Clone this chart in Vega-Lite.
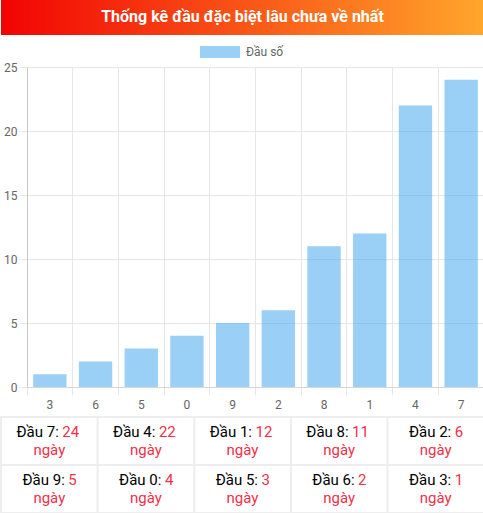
{
  "$schema": "https://vega.github.io/schema/vega-lite/v6.json",
  "padding": 0,
  "background": "white",
  "spacing": 0,
  "bounds": "full",
  "config": {
    "view": {"stroke": null},
    "font": "Roboto"
  },
  "datasets": {
    "heads": [
      {"dau": "3", "days": 1, "label": "Đầu 3:"},
      {"dau": "6", "days": 2, "label": "Đầu 6:"},
      {"dau": "5", "days": 3, "label": "Đầu 5:"},
      {"dau": "0", "days": 4, "label": "Đầu 0:"},
      {"dau": "9", "days": 5, "label": "Đầu 9:"},
      {"dau": "2", "days": 6, "label": "Đầu 2:"},
      {"dau": "8", "days": 11, "label": "Đầu 8:"},
      {"dau": "1", "days": 12, "label": "Đầu 1:"},
      {"dau": "4", "days": 22, "label": "Đầu 4:"},
      {"dau": "7", "days": 24, "label": "Đầu 7:"}
    ]
  },
  "resolve": {"legend": {"color": "independent"}},
  "vconcat": [
    {
      "width": 483,
      "height": 35,
      "data": {"values": [{"title": "Thống kê đầu đặc biệt lâu chưa về nhất"}]},
      "layer": [
        {
          "mark": {
            "type": "rect",
            "fill": {
              "gradient": "linear",
              "x1": 0, "x2": 1, "y1": 0, "y2": 0,
              "stops": [
                {"offset": 0, "color": "#f20303"},
                {"offset": 1, "color": "#ffa62b"}
              ]
            }
          },
          "encoding": {}
        },
        {
          "mark": {
            "type": "text",
            "font": "Roboto",
            "fontSize": 16,
            "fontWeight": "bold",
            "color": "white",
            "baseline": "alphabetic",
            "dy": 4.5
          },
          "encoding": {"text": {"field": "title"}}
        }
      ]
    },
    {
      "width": 483,
      "height": 320,
      "data": {"name": "heads"},
      "mark": {"type": "bar", "width": {"band": 0.73}, "opacity": 0.5},
      "encoding": {
        "x": {
          "field": "dau",
          "type": "nominal",
          "sort": {"field": "days", "order": "ascending"},
          "scale": {"paddingInner": 0, "paddingOuter": 0, "range": [26, 483]},
          "axis": {
            "title": null,
            "bandPosition": 0,
            "grid": true,
            "gridColor": "#e6e6e6",
            "tickColor": "#e6e6e6",
            "tickSize": 8,
            "domainColor": "#d6d6d6",
            "labelAngle": 0,
            "labelPadding": 4,
            "labelFont": "Roboto",
            "labelFontSize": 12,
            "labelColor": "#666666",
            "minExtent": 29,
            "maxExtent": 29
          }
        },
        "y": {
          "field": "days",
          "type": "quantitative",
          "scale": {"domain": [0, 25], "nice": false},
          "axis": {
            "title": null,
            "offset": -26,
            "values": [0, 5, 10, 15, 20, 25],
            "grid": true,
            "gridColor": "#e6e6e6",
            "tickColor": "#e6e6e6",
            "tickSize": 8,
            "domainColor": "#c9c9c9",
            "labelFont": "Roboto",
            "labelFontSize": 12,
            "labelColor": "#666666",
            "labelPadding": 2
          }
        },
        "color": {
          "datum": "Đầu số",
          "type": "nominal",
          "scale": {"range": ["#36a2eb"]},
          "legend": {
            "title": null,
            "orient": "none",
            "legendX": 202,
            "legendY": -32,
            "padding": 11,
            "symbolType": "M-3.333,-1H3.333V1H-3.333Z",
            "symbolSize": 144,
            "symbolOpacity": 0.5,
            "symbolStrokeWidth": 0,
            "labelOffset": 20,
            "labelFont": "Roboto",
            "labelFontSize": 12,
            "labelColor": "#666666"
          }
        }
      }
    },
    {
      "width": 483,
      "height": 96,
      "data": {"name": "heads"},
      "transform": [
        {"window": [{"op": "row_number", "as": "rank"}], "sort": [{"field": "days", "order": "descending"}]},
        {"calculate": "(datum.rank - 1) % 5", "as": "col"},
        {"calculate": "floor((datum.rank - 1) / 5)", "as": "row"}
      ],
      "encoding": {
        "x": {"field": "col", "type": "ordinal", "axis": null, "scale": {"paddingInner": 0, "paddingOuter": 0}},
        "y": {"field": "row", "type": "ordinal", "axis": null, "scale": {"paddingInner": 0, "paddingOuter": 0}}
      },
      "layer": [
        {
          "mark": {"type": "rect", "fill": "white", "stroke": "#eeeeee", "strokeWidth": 2}
        },
        {
          "transform": [{"filter": "datum.days >= 10"}],
          "mark": {"type": "text", "align": "right", "baseline": "alphabetic", "dx": 9.5, "dy": -4, "fontSize": 15, "color": "#000000"},
          "encoding": {"text": {"field": "label"}}
        },
        {
          "transform": [{"filter": "datum.days >= 10"}],
          "mark": {"type": "text", "align": "left", "baseline": "alphabetic", "dx": 13, "dy": -4, "fontSize": 15, "color": "#f2304a"},
          "encoding": {"text": {"field": "days"}}
        },
        {
          "transform": [{"filter": "datum.days < 10"}],
          "mark": {"type": "text", "align": "right", "baseline": "alphabetic", "dx": 15.5, "dy": -4, "fontSize": 15, "color": "#000000"},
          "encoding": {"text": {"field": "label"}}
        },
        {
          "transform": [{"filter": "datum.days < 10"}],
          "mark": {"type": "text", "align": "left", "baseline": "alphabetic", "dx": 19, "dy": -4, "fontSize": 15, "color": "#f2304a"},
          "encoding": {"text": {"field": "days"}}
        },
        {
          "mark": {"type": "text", "text": "ngày", "baseline": "alphabetic", "dy": 14, "fontSize": 15, "color": "#f2304a"}
        }
      ]
    }
  ]
}
